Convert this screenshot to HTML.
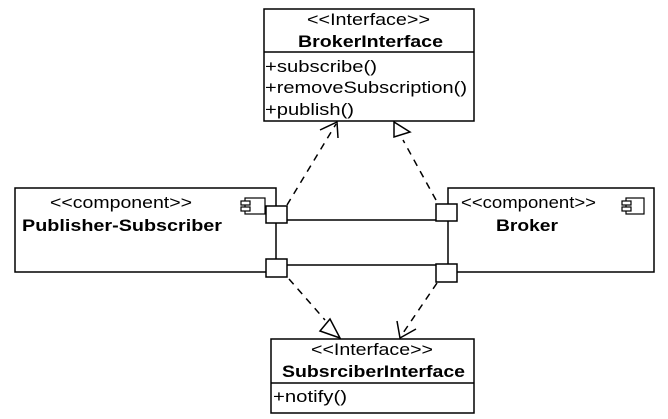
<!DOCTYPE html>
<html><head><style>html,body{margin:0;padding:0;background:#fff}svg{display:block}text{font-family:"Liberation Sans",Arial,sans-serif;fill:#000}</style></head>
<body>
<svg width="668" height="419" viewBox="0 0 668 419" xmlns="http://www.w3.org/2000/svg">
<g stroke="#000" stroke-width="1.5" fill="none">
<rect x="264" y="9" width="210" height="112" fill="#fff"/>
<line x1="264" y1="52" x2="474" y2="52"/>
<rect x="271" y="339" width="203" height="74" fill="#fff"/>
<line x1="271" y1="383" x2="474" y2="383"/>
<rect x="15" y="188" width="261" height="84" fill="#fff"/>
<rect x="448" y="188" width="206" height="84" fill="#fff"/>
<rect x="245" y="198" width="20" height="16" stroke-width="1.2"/>
<rect x="241" y="201" width="9" height="4" fill="#fff" stroke-width="1.2"/>
<rect x="241" y="207" width="9" height="4" fill="#fff" stroke-width="1.2"/>
<rect x="626" y="198" width="18" height="16" stroke-width="1.2"/>
<rect x="622" y="201" width="9" height="4" fill="#fff" stroke-width="1.2"/>
<rect x="622" y="207" width="9" height="4" fill="#fff" stroke-width="1.2"/>
<line x1="287" y1="220" x2="436" y2="220"/>
<line x1="287" y1="265" x2="436" y2="265"/>
<rect x="266" y="206" width="21" height="17" fill="#fff"/>
<rect x="266" y="259" width="21" height="18" fill="#fff"/>
<rect x="436" y="204" width="21" height="17" fill="#fff"/>
<rect x="436" y="264" width="21" height="18" fill="#fff"/>
<g stroke-dasharray="7,6">
<line x1="287" y1="205" x2="336" y2="124"/>
<line x1="436" y1="200" x2="403" y2="140"/>
<line x1="289" y1="279" x2="325" y2="320"/>
<line x1="437" y1="283" x2="401" y2="336"/>
</g>
<polyline points="320,130 337,122 338,138"/>
<polygon points="394,122 394,137 410,132" fill="#fff"/>
<polygon points="340,338 320,331 330,319" fill="#fff"/>
<polyline points="397,321 400,338 416,329"/>
</g>
<g font-size="17" lengthAdjust="spacingAndGlyphs">
<text x="307" y="25" textLength="123" lengthAdjust="spacingAndGlyphs">&lt;&lt;Interface&gt;&gt;</text>
<text x="298" y="47" textLength="145" lengthAdjust="spacingAndGlyphs" font-weight="bold">BrokerInterface</text>
<text x="265" y="72" textLength="112" lengthAdjust="spacingAndGlyphs">+subscribe()</text>
<text x="265" y="93" textLength="202" lengthAdjust="spacingAndGlyphs">+removeSubscription()</text>
<text x="265" y="115" textLength="89" lengthAdjust="spacingAndGlyphs">+publish()</text>
<text x="311" y="355" textLength="122" lengthAdjust="spacingAndGlyphs">&lt;&lt;Interface&gt;&gt;</text>
<text x="282" y="377" textLength="183" lengthAdjust="spacingAndGlyphs" font-weight="bold">SubsrciberInterface</text>
<text x="273" y="402" textLength="74" lengthAdjust="spacingAndGlyphs">+notify()</text>
<text x="50" y="208" textLength="142" lengthAdjust="spacingAndGlyphs">&lt;&lt;component&gt;&gt;</text>
<text x="22" y="231" textLength="200" lengthAdjust="spacingAndGlyphs" font-weight="bold">Publisher-Subscriber</text>
<text x="461" y="208" textLength="135" lengthAdjust="spacingAndGlyphs">&lt;&lt;component&gt;&gt;</text>
<text x="496" y="231" textLength="62" lengthAdjust="spacingAndGlyphs" font-weight="bold">Broker</text>
</g>
</svg>
</body></html>
